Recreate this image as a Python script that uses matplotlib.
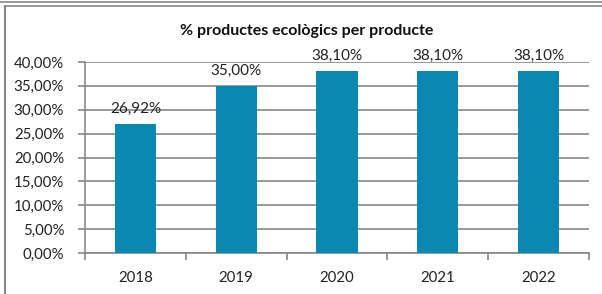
import numpy as np
import matplotlib.pyplot as plt
from matplotlib.lines import Line2D

years = ['2018', '2019', '2020', '2021', '2022']
pct = [26.92, 35.00, 38.10, 38.10, 38.10]
yticks = [0, 5, 10, 15, 20, 25, 30, 35, 40]
title = '% productes ecològics per producte'

W, H = 602, 294
plt.rcParams['font.family'] = ['Lato', 'DejaVu Sans']
grey = '#878787'

fig = plt.figure(figsize=(W / 100, H / 100), dpi=100)

# marc de la cel·la / gràfic
fig.add_artist(Line2D([0, 1], [1 - 1.5 / H, 1 - 1.5 / H], color=grey, lw=1.2))
fig.add_artist(Line2D([4.5 / W, 1], [1 - 5.5 / H, 1 - 5.5 / H], color=grey, lw=1.2))
fig.add_artist(Line2D([4.5 / W, 4.5 / W], [0, 1 - 5.5 / H], color=grey, lw=1.5))

ax = fig.add_axes([85 / W, (H - 253) / H, (589 - 85) / W, (253 - 62) / H])
x = np.arange(len(years))
bars = ax.bar(x, pct, width=0.41, color='#0B88B2', zorder=3)
ax.bar_label(bars, labels=[f'{v:.2f}%'.replace('.', ',') for v in pct],
             padding=6, fontsize=11, color='#222222', zorder=4)

ax.set_xlim(-0.5, len(years) - 0.5)
ax.set_ylim(0, 40)
ax.set_yticks(yticks)
ax.set_yticklabels([f'{v:.2f}%'.replace('.', ',') for v in yticks])
ax.set_xticks(x)
ax.set_xticklabels(years)
ax.set_xticks(np.arange(len(years) + 1) - 0.5, minor=True)
ax.yaxis.grid(True, color=grey, lw=1.2, zorder=0)
ax.set_axisbelow(True)

for s in ['top', 'right']:
    ax.spines[s].set_visible(False)
for s in ['left', 'bottom']:
    ax.spines[s].set_color(grey)
    ax.spines[s].set_linewidth(1.2)

ax.tick_params(axis='y', length=5, color=grey, width=1.2, labelsize=10.8,
               labelcolor='#222222', pad=10)
ax.tick_params(axis='x', which='major', length=0, labelsize=10.8,
               labelcolor='#222222', pad=13)
ax.tick_params(axis='x', which='minor', length=5, color=grey, width=1.2)

fig.text(307 / W, 1 - 31 / H, title, ha='center', va='center',
         fontsize=11.5, fontweight='bold', color='#111111')

fig.savefig('out.png', dpi=100)
